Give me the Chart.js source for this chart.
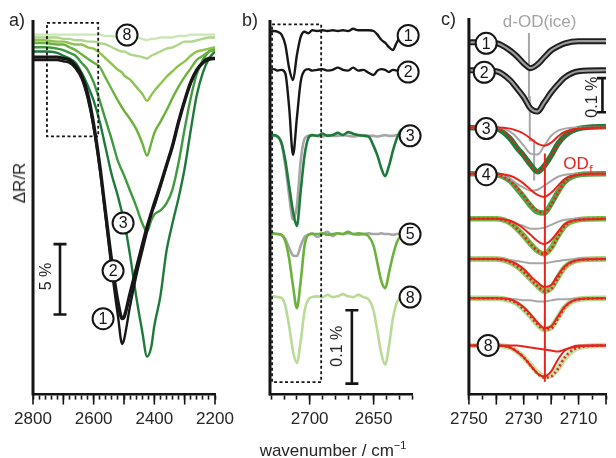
<!DOCTYPE html>
<html>
<head>
<meta charset="utf-8">
<script src="https://cdn.jsdelivr.net/npm/chart.js@4.4.1/dist/chart.umd.min.js"></script>
<style>
  body { margin: 0; background: #fff; }
  #wrap { position: relative; width: 616px; height: 458px; overflow: hidden; font-family: "Liberation Sans", Arial, sans-serif; color: #262626; }
  canvas { position: absolute; top: 0; }
  .lab { position: absolute; font-size: 18px; line-height: 18px; white-space: nowrap; }
</style>
</head>
<body>
<div id="wrap">
  <canvas id="pa" width="250" height="458" style="left:0px"></canvas>
  <canvas id="pb" width="190" height="458" style="left:250px"></canvas>
  <canvas id="pc" width="176" height="458" style="left:440px"></canvas>
  <div class="lab" style="left:9px;top:11px">a)</div>
  <div class="lab" style="left:242px;top:11px">b)</div>
  <div class="lab" style="left:441px;top:10px">c)</div>
  <div class="lab" style="left:20px;top:183px;transform:translate(-50%,-50%) rotate(-90deg);font-size:17px">ΔR/R</div>
  <div class="lab" style="left:333px;top:442px;transform:translateX(-50%);font-size:17px">wavenumber / cm<span style="font-size:11px;position:relative;top:-7px">−1</span></div>
</div>
<script>
// ---- panel a: wavenumber (cm-1) and ΔR/R (%) ----
const waveA = [2800, 2760, 2720, 2700, 2680, 2660, 2640, 2620, 2600, 2580, 2560, 2540, 2520, 2506, 2500, 2480, 2460, 2440, 2424, 2410, 2400, 2380, 2360, 2340, 2320, 2300, 2280, 2260, 2240, 2220, 2200];
const a1 = [-0.2, -0.2, -0.2, -0.3, -0.4, -0.8, -1.5, -2.9, -5.0, -7.9, -11.5, -15.2, -18.4, -20.4, -20.1, -17.7, -15.6, -13.8, -12.4, -11.1, -10.6, -9.2, -7.7, -6.3, -4.6, -3.1, -1.8, -0.9, -0.4, -0.2, -0.1];
const a2 = [0, 0, 0, -0.1, -0.2, -0.6, -1.3, -2.6, -4.8, -7.7, -11.2, -14.6, -17.4, -18.6, -18.5, -16.8, -15.1, -13.4, -12.1, -11.1, -10.4, -9.1, -7.7, -6.3, -4.6, -3.1, -1.8, -0.9, -0.4, -0.1, -0.1];
const a3 = [0.4, 0.4, 0.3, 0.1, -0.1, -0.4, -1.1, -2.0, -3.1, -4.6, -6.5, -8.4, -9.9, -11.1, -11.6, -14.1, -17.0, -19.5, -21.3, -20.6, -19.1, -17.0, -13.8, -11.8, -10.0, -7.9, -5.2, -2.7, -1.1, -0.1, 0.4];
const a4 = [0.7, 0.7, 0.6, 0.5, 0.3, 0.1, -0.4, -0.9, -1.8, -3.1, -4.5, -5.9, -7.4, -8.1, -8.4, -9.5, -10.6, -11.8, -12.4, -11.6, -11.2, -10.9, -10.4, -9.4, -7.5, -5.1, -2.9, -1.2, -0.2, 0.4, 0.6];
const a5 = [1.0, 1.0, 0.9, 0.9, 0.7, 0.5, 0.2, -0.1, -0.4, -0.7, -1.5, -2.3, -3.1, -3.6, -3.8, -4.4, -5.1, -6.1, -7.0, -6.1, -5.4, -4.6, -3.8, -2.9, -2.1, -1.4, -0.8, -0.2, 0.1, 0.4, 0.5];
const a6 = [1.2, 1.2, 1.1, 1.1, 1.0, 0.9, 0.9, 0.7, 0.6, 0.3, -0.1, -0.5, -0.9, -1.1, -1.3, -1.6, -2.1, -2.6, -3.1, -2.7, -2.4, -1.9, -1.4, -1.0, -0.6, -0.3, 0.1, 0.4, 0.5, 0.6, 0.7];
const a7 = [1.4, 1.4, 1.4, 1.3, 1.3, 1.2, 1.2, 1.1, 1.1, 1.0, 0.9, 0.7, 0.5, 0.4, 0.4, 0.2, 0.1, 0.0, -0.1, 0.1, 0.2, 0.4, 0.6, 0.7, 0.9, 1.1, 1.1, 1.2, 1.3, 1.4, 1.4];
const a8 = [1.6, 1.6, 1.6, 1.6, 1.6, 1.6, 1.6, 1.6, 1.6, 1.6, 1.5, 1.5, 1.4, 1.4, 1.4, 1.4, 1.4, 1.3, 1.2, 1.3, 1.3, 1.4, 1.4, 1.4, 1.5, 1.5, 1.6, 1.6, 1.6, 1.6, 1.6];
const labelsA = [2800, 2600, 2400, 2200];
const boxA = { x: [2754, 2585], y: [2.43, -5.64] };
const barA = [-13.3, -18.3];   // 5 %

// ---- panel b: zoom 2731-2620 cm-1, ΔR/R (%), traces offset ----
const waveB = [2731, 2728, 2725, 2722, 2719, 2716, 2713, 2710, 2707, 2704, 2701, 2698, 2694, 2690, 2686, 2682, 2678, 2674, 2670, 2666, 2662, 2658, 2654, 2650, 2647, 2644, 2641, 2638, 2635, 2632, 2629, 2626];
const b1 = [-0.001, 0, -0.001, -0.005, -0.019, -0.051, -0.067, -0.033, -0.008, -0.001, -0.003, 0.001, 0, 0.001, 0, 0.001, 0, 0.001, 0, 0.003, 0.001, 0.001, 0.001, 0, -0.005, -0.012, -0.016, -0.022, -0.026, -0.016, -0.007, -0.001];
const b2 = [0, 0.001, -0.001, 0, -0.005, -0.052, -0.116, -0.066, -0.016, -0.001, 0.001, -0.001, 0, 0.001, -0.001, 0, 0.003, 0, -0.001, 0.003, -0.001, 0, -0.004, -0.007, -0.001, 0.001, 0, -0.003, 0, -0.001, 0, 0];
const b3 = [0, 0.001, -0.001, -0.010, -0.034, -0.069, -0.103, -0.123, -0.075, -0.027, -0.003, 0.001, 0, 0.003, 0, 0.001, 0.004, 0.001, 0.005, 0.003, 0.001, 0, -0.001, -0.014, -0.027, -0.044, -0.055, -0.041, -0.021, -0.004, 0.007, 0.010];
const b3ref = [0, 0, -0.001, -0.010, -0.041, -0.082, -0.114, -0.096, -0.034, -0.004, 0, 0.001, 0, -0.001, 0.001, 0, 0, 0.001, 0, -0.001, 0, 0.001, 0, 0, -0.001, 0, 0.001, 0, 0, 0.001, 0, 0];
const b5 = [0, 0.001, 0, -0.001, -0.010, -0.034, -0.071, -0.101, -0.064, -0.016, -0.001, 0, 0, 0.001, -0.001, 0, 0.001, 0, 0.003, 0, 0.001, 0, -0.003, -0.016, -0.040, -0.064, -0.074, -0.053, -0.030, -0.012, -0.003, 0];
const b5ref = [0, 0, 0, -0.001, -0.007, -0.019, -0.029, -0.030, -0.016, -0.004, -0.001, 0.001, -0.004, 0, 0.003, -0.003, 0.001, 0, 0.001, 0, -0.001, 0, 0.001, 0, 0, 0.001, 0, 0, -0.001, 0, 0, 0];
const b8 = [0, 0.001, 0, -0.001, -0.012, -0.040, -0.074, -0.090, -0.060, -0.019, -0.003, 0, 0.001, 0, 0.003, 0, 0.001, 0.004, 0.001, 0, 0.003, 0, -0.003, -0.019, -0.047, -0.077, -0.092, -0.067, -0.030, -0.008, -0.001, 0];
const offsetsB = [-0.015, -0.068, -0.158, -0.292, -0.378];
const labelsB = [2700, 2650];
const boxB = { x: [2729.4, 2691], y: [-0.006, -0.494] };
const barB = [-0.396, -0.496];   // 0.1 %

// ---- panel c: zoom 2750-2700 cm-1, data / fit / components ----
const waveC = [2750, 2740, 2735, 2732.5, 2730, 2727.5, 2725, 2722.5, 2720, 2717.5, 2715, 2710, 2700];
const c1 = [0, -0.003, -0.024, -0.041, -0.062, -0.076, -0.065, -0.044, -0.024, -0.012, -0.003, 0.003, 0.003];
const c2 = [0, -0.003, -0.029, -0.053, -0.079, -0.112, -0.121, -0.094, -0.065, -0.041, -0.021, -0.003, 0];
const c3 = [0, -0.003, -0.032, -0.059, -0.082, -0.109, -0.129, -0.112, -0.082, -0.047, -0.024, -0.003, 0.003];
const c3fit = [0, -0.003, -0.029, -0.056, -0.082, -0.109, -0.129, -0.112, -0.082, -0.050, -0.024, -0.003, 0];
const c3odf = [0, 0, -0.003, -0.009, -0.018, -0.032, -0.047, -0.053, -0.044, -0.026, -0.012, -0.003, 0];
const c3ice = [0, 0, -0.012, -0.029, -0.053, -0.076, -0.079, -0.053, -0.024, -0.009, -0.003, 0, 0];
const c4 = [0, -0.003, -0.021, -0.044, -0.068, -0.094, -0.112, -0.115, -0.088, -0.053, -0.024, -0.003, 0];
const c4fit = [0, -0.003, -0.021, -0.041, -0.065, -0.091, -0.109, -0.115, -0.091, -0.056, -0.024, -0.003, 0];
const c4odf = [0, 0, -0.006, -0.015, -0.029, -0.047, -0.062, -0.068, -0.056, -0.035, -0.015, -0.003, 0];
const c4ice = [0, 0, -0.015, -0.029, -0.041, -0.050, -0.047, -0.035, -0.021, -0.009, -0.003, 0, 0];
const c5 = [0, 0, -0.012, -0.029, -0.050, -0.074, -0.094, -0.103, -0.085, -0.050, -0.021, -0.003, 0];
const c5fit = [0, 0, -0.012, -0.029, -0.050, -0.074, -0.094, -0.103, -0.088, -0.053, -0.021, -0.003, 0];
const c5odf = [0, 0, -0.006, -0.015, -0.029, -0.047, -0.065, -0.074, -0.062, -0.038, -0.015, -0.003, 0];
const c5ice = [0, 0, -0.006, -0.015, -0.021, -0.029, -0.029, -0.026, -0.018, -0.009, -0.003, 0, 0];
const c6 = [0, 0, -0.009, -0.021, -0.038, -0.059, -0.079, -0.094, -0.085, -0.053, -0.024, -0.003, 0];
const c6fit = [0, 0, -0.009, -0.021, -0.038, -0.059, -0.079, -0.094, -0.088, -0.056, -0.024, -0.003, 0];
const c6odf = [0, 0, -0.006, -0.015, -0.029, -0.050, -0.068, -0.082, -0.076, -0.047, -0.021, -0.003, 0];
const c6ice = [0, 0, -0.003, -0.006, -0.009, -0.012, -0.012, -0.012, -0.009, -0.006, -0.003, 0, 0];
const c7 = [0, 0, -0.006, -0.015, -0.032, -0.053, -0.076, -0.091, -0.085, -0.056, -0.026, -0.003, 0];
const c7fit = [0, 0, -0.006, -0.015, -0.032, -0.053, -0.076, -0.091, -0.088, -0.059, -0.026, -0.003, 0];
const c7odf = [0, 0, -0.003, -0.012, -0.026, -0.047, -0.071, -0.088, -0.082, -0.053, -0.024, -0.003, 0];
const c7ice = [0, 0, -0.003, -0.003, -0.006, -0.006, -0.009, -0.009, -0.006, -0.003, -0.003, 0, 0];
const c8 = [0, 0, -0.006, -0.018, -0.035, -0.056, -0.079, -0.091, -0.088, -0.068, -0.038, -0.006, 0];
const c8fit = [0, 0, -0.006, -0.018, -0.035, -0.059, -0.082, -0.094, -0.091, -0.068, -0.035, -0.006, 0];
const c8odf = [0, 0, -0.006, -0.018, -0.035, -0.059, -0.082, -0.091, -0.076, -0.041, -0.015, -0.003, 0];
const c8odf2 = [0, 0, 0, 0, -0.003, -0.006, -0.009, -0.012, -0.015, -0.018, -0.012, 0, 0];
const offsetsC = [-0.071, -0.153, -0.321, -0.456, -0.588, -0.706, -0.821, -0.959];
const labelsC = [2750, 2730, 2710];
const iceLineC = { x: [2728.1, 2728.1, 2727.8, 2727.8, 2726.2, 2726.2], y: [-0.044, -0.232, -0.232, -0.359, -0.359, -0.476] };
const odfLineC = { x: [2722.3, 2722.3], y: [-0.397, -1.065] };
const barC = [-0.176, -0.276];   // 0.1 %

const BLACK = '#151515', RED = '#e8231c', GRAY = '#a6a6a6';
const FONT = '"Liberation Sans", Arial, sans-serif';

function pts(xs, ys, off) {
  return xs.map((x, i) => ({ x: x, y: ys[i] + (off || 0) }));
}
function line(xs, ys, off, color, width, more) {
  return Object.assign({
    data: pts(xs, ys, off), borderColor: color, borderWidth: width,
    pointRadius: 0, fill: false, cubicInterpolationMode: 'monotone'
  }, more || {});
}
function box(b, order) {
  return {
    data: [{x: b.x[0], y: b.y[0]}, {x: b.x[1], y: b.y[0]}, {x: b.x[1], y: b.y[1]}, {x: b.x[0], y: b.y[1]}, {x: b.x[0], y: b.y[0]}],
    borderColor: BLACK, borderWidth: 1.8, borderDash: [3, 2.5], pointRadius: 0, tension: 0, order: order
  };
}
function bar(x, ys, cap) {
  return {
    data: [{x: x, y: ys[0]}, {x: x, y: ys[1]}], borderColor: BLACK, borderWidth: 2.6,
    pointStyle: 'line', pointRadius: cap, pointBorderWidth: 2.6, pointBorderColor: BLACK, tension: 0, order: 0
  };
}
function range(from, to, step) {
  const out = [];
  for (let v = from; v >= to; v -= step) out.push(v);
  return out;
}

// axis line, long ticks, in-plot texts and circled numbers
const extras = {
  id: 'extras',
  afterDraw(chart, args, o) {
    const ctx = chart.ctx, ca = chart.chartArea, x = chart.scales.x, y = chart.scales.y;
    ctx.save();
    ctx.strokeStyle = BLACK;
    ctx.lineWidth = 3;
    ctx.beginPath(); ctx.moveTo(ca.left, ca.top); ctx.lineTo(ca.left, ca.bottom + 1); ctx.stroke();
    ctx.lineWidth = 1.6;
    (o.major || []).forEach(v => {
      const px = x.getPixelForValue(v);
      ctx.beginPath(); ctx.moveTo(px, ca.bottom); ctx.lineTo(px, ca.bottom + 10); ctx.stroke();
    });
    (o.texts || []).forEach(t => {
      ctx.save();
      ctx.translate(x.getPixelForValue(t.x), y.getPixelForValue(t.y));
      if (t.rot) ctx.rotate(-Math.PI / 2);
      ctx.fillStyle = t.color || '#262626';
      ctx.font = (t.size || 16) + 'px ' + FONT;
      ctx.textAlign = t.align || 'center';
      ctx.textBaseline = 'middle';
      ctx.fillText(t.text, 0, 0);
      if (t.sub) {
        const w = ctx.measureText(t.text).width;
        ctx.font = '12px ' + FONT;
        ctx.textAlign = 'left';
        ctx.fillText(t.sub, (t.align === 'left' ? w : w / 2) + 0.5, 6);
      }
      ctx.restore();
    });
    (o.circles || []).forEach(c => {
      const px = x.getPixelForValue(c.x), py = y.getPixelForValue(c.y);
      ctx.beginPath(); ctx.arc(px, py, 10.5, 0, Math.PI * 2);
      ctx.fillStyle = '#fff'; ctx.fill();
      ctx.lineWidth = 2; ctx.strokeStyle = BLACK; ctx.stroke();
      ctx.fillStyle = BLACK; ctx.font = '16px ' + FONT;
      ctx.textAlign = 'center'; ctx.textBaseline = 'middle';
      ctx.fillText(c.n, px, py + 1);
    });
    ctx.restore();
  }
};

function makeChart(id, datasets, xs, yr, pad, ex) {
  return new Chart(document.getElementById(id), {
    type: 'line',
    data: { datasets: datasets },
    options: {
      responsive: false, animation: false, events: [],
      layout: { padding: pad },
      plugins: { legend: { display: false }, tooltip: { enabled: false }, extras: ex },
      scales: {
        x: {
          type: 'linear', reverse: true, min: xs.min, max: xs.max,
          border: { display: true, color: BLACK, width: 2.5 },
          grid: { drawOnChartArea: false, drawTicks: true, tickLength: 5, tickWidth: 1.6, tickColor: BLACK },
          afterBuildTicks: s => { s.ticks = xs.ticks.map(v => ({ value: v })); },
          ticks: {
            autoSkip: false, maxRotation: 0, padding: 10, color: '#262626',
            font: { family: FONT, size: 17 },
            callback: v => xs.labels.includes(v) ? String(v) : ''
          }
        },
        y: { display: false, min: yr[0], max: yr[1] }
      }
    },
    plugins: [extras]
  });
}

// panel a
const colA = ['#171717', '#171717', '#1d7a3a', '#3f9a3f', '#6bb23c', '#8dc44e', '#afd68a', '#cde6b8'];
const seriesA = [a1, a2, a3, a4, a5, a6, a7, a8];
const dsA = seriesA.map((s, i) => line(waveA, s, 0, colA[i], i === 1 ? 3.4 : 2.4, { order: i < 2 ? 1 : 10 - i }));
dsA.push(box(boxA, 0), bar(2711, barA, 6.5));
makeChart('pa', dsA, { min: 2200, max: 2800, ticks: range(2800, 2200, 20), labels: labelsA }, [-24.0, 2.64],
  { left: 33, right: 35, top: 20, bottom: 18 },
  {
    major: range(2800, 2200, 100),
    texts: [{ text: '5 %', x: 2754, y: -15.6, rot: true, size: 16 }],
    circles: [{ n: '1', x: 2569, y: -18.6 }, { n: '2', x: 2536, y: -15.2 }, { n: '3', x: 2503, y: -11.8 }, { n: '8', x: 2490, y: 1.57 }]
  });

// panel b
const dsB = [
  line(waveB, b1, offsetsB[0], '#171717', 2.4, { order: 2 }),
  line(waveB, b2, offsetsB[1], '#171717', 2.4, { order: 2 }),
  line(waveB, b3, offsetsB[2], '#1d7a3a', 2.6, { order: 2 }),
  line(waveB, b3ref, offsetsB[2], GRAY, 2.6, { order: 3 }),
  line(waveB, b5, offsetsB[3], '#6bb23c', 2.6, { order: 2 }),
  line(waveB, b5ref, offsetsB[3], GRAY, 2.6, { order: 3 }),
  line(waveB, b8, offsetsB[4], '#b8db96', 2.6, { order: 2 }),
  box(boxB, 1), bar(2667, barB, 6.5)
];
makeChart('pb', dsB, { min: 2620, max: 2731, ticks: range(2730, 2620, 10), labels: labelsB }, [-0.511, 0],
  { left: 20, right: 28, top: 20, bottom: 18 },
  {
    major: [2700, 2650],
    texts: [{ text: '0.1 %', x: 2678, y: -0.445, rot: true, size: 16 }],
    circles: [{ n: '1', x: 2623, y: -0.021 }, { n: '2', x: 2623, y: -0.071 }, { n: '3', x: 2621.5, y: -0.158 },
              { n: '5', x: 2621.5, y: -0.292 }, { n: '8', x: 2621.5, y: -0.378 }]
  });

// panel c
const colC = ['#1f7d3a', '#4fa346', '#74b84a', '#8fc562', '#b0d68c', '#c6e3a8'];
const dataC = [c3, c4, c5, c6, c7, c8];
const fitC = [c3fit, c4fit, c5fit, c6fit, c7fit, c8fit];
const odfC = [c3odf, c4odf, c5odf, c6odf, c7odf, c8odf];
const iceC = [c3ice, c4ice, c5ice, c6ice, c7ice];
const dsC = [
  line(waveC, c1, offsetsC[0], '#1e1e1e', 6, { order: 6 }),
  line(waveC, c1, offsetsC[0], '#9d9d9d', 2.2, { order: 5 }),
  line(waveC, c2, offsetsC[1], '#1e1e1e', 6, { order: 6 }),
  line(waveC, c2, offsetsC[1], '#9d9d9d', 2.2, { order: 5 })
];
dataC.forEach((d, i) => {
  const off = offsetsC[i + 2];
  dsC.push(line(waveC, d, off, colC[i], 5.5, { order: 6 }));
  if (iceC[i]) dsC.push(line(waveC, iceC[i], off, GRAY, 2, { order: 4 }));
  dsC.push(line(waveC, odfC[i], off, RED, 2, { order: 3 }));
  dsC.push(line(waveC, fitC[i], off, RED, 2.6, { order: 2, borderDash: [2, 2.5] }));
});
dsC.push(line(waveC, c8odf2, offsetsC[7], RED, 2, { order: 3 }));
dsC.push(line(iceLineC.x, iceLineC.y, 0, GRAY, 2, { order: 7, cubicInterpolationMode: 'default', tension: 0 }));
dsC.push(line(odfLineC.x, odfLineC.y, 0, RED, 2, { order: 1, cubicInterpolationMode: 'default', tension: 0 }));
dsC.push(bar(2701.3, barC, 5.5));
makeChart('pc', dsC, { min: 2700, max: 2750, ticks: range(2750, 2700, 5), labels: labelsC }, [-1.103, 0],
  { left: 21, right: 4, top: 18, bottom: 18 },
  {
    major: [2750, 2740, 2730, 2720, 2710, 2700],
    texts: [
      { text: 'd-OD(ice)', x: 2724.2, y: -0.012, color: '#a3a3a3', size: 17 },
      { text: 'OD', sub: 'f', x: 2715.6, y: -0.429, color: RED, size: 17, align: 'left' },
      { text: '0.1 %', x: 2705, y: -0.232, rot: true, size: 16 }
    ],
    circles: [{ n: '1', x: 2743.7, y: -0.074 }, { n: '2', x: 2744.4, y: -0.159 }, { n: '3', x: 2743.7, y: -0.324 },
              { n: '4', x: 2743.7, y: -0.459 }, { n: '8', x: 2743, y: -0.959 }]
  });
</script>
</body>
</html>
